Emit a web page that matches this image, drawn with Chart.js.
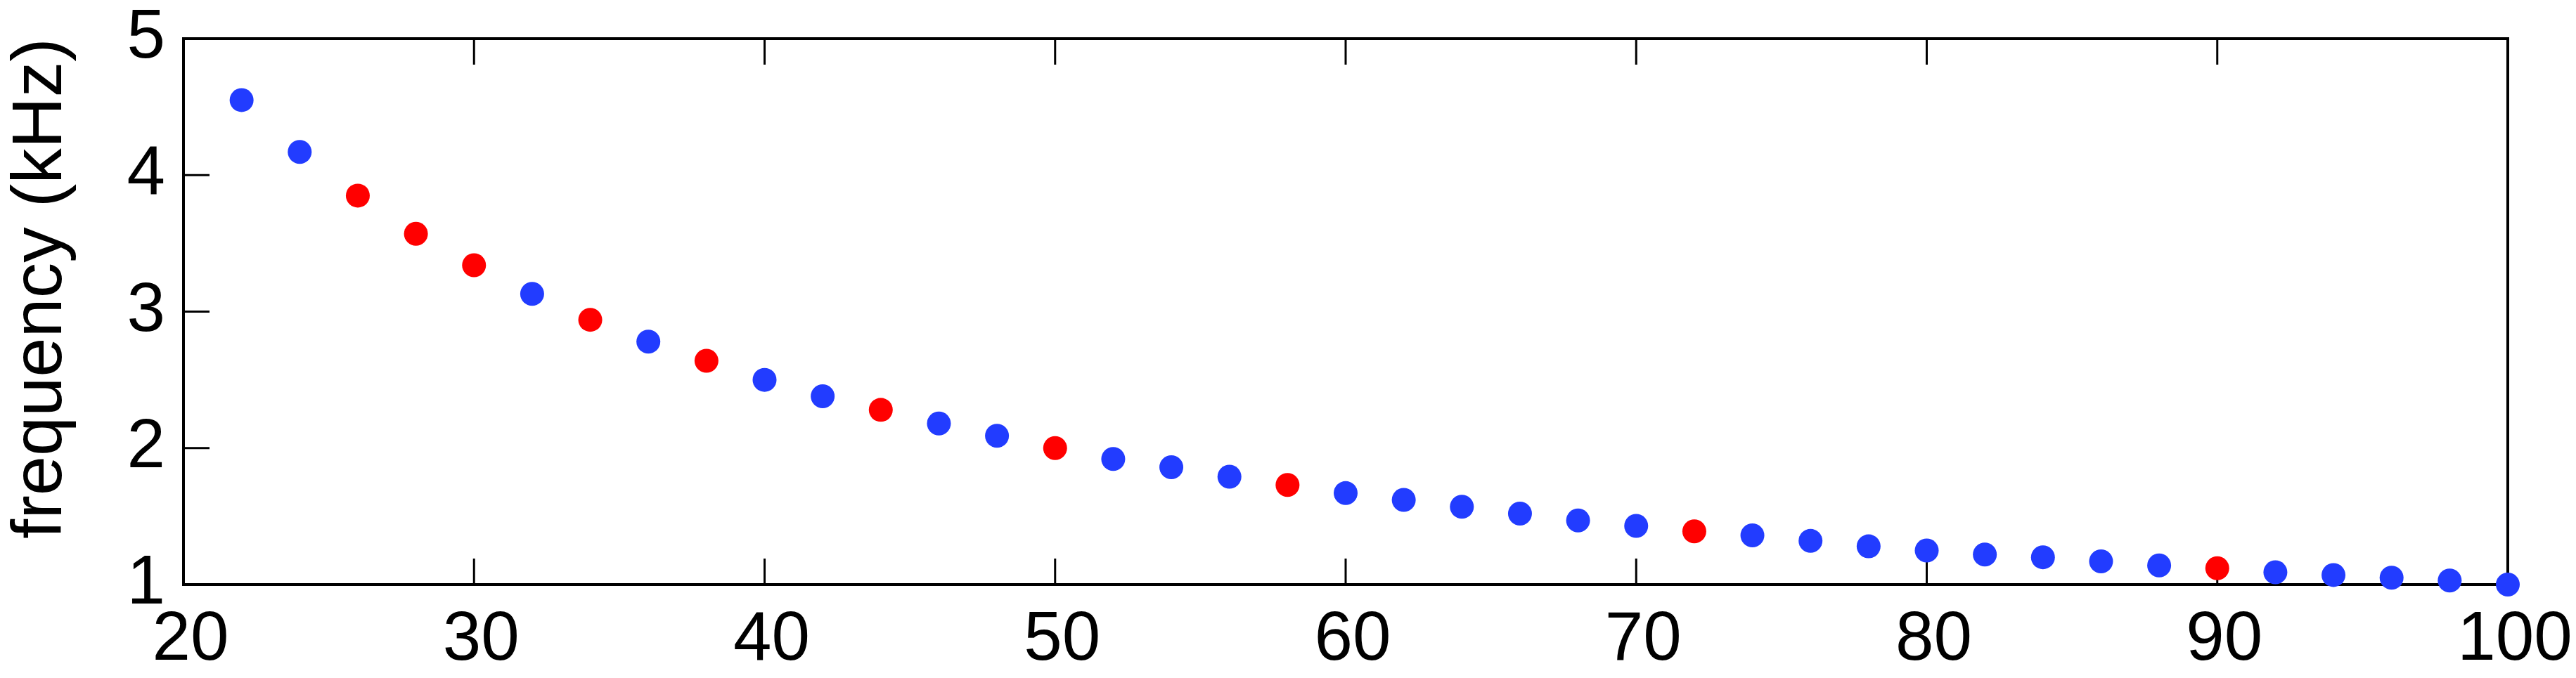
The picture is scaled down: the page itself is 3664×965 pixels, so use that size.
<!DOCTYPE html>
<html>
<head>
<meta charset="utf-8">
<script src="https://cdn.jsdelivr.net/npm/chart.js@4/dist/chart.umd.min.js"></script>
<style>
    html, body { margin: 0; padding: 0; background: #fff; }
    #chart { display: block; }
</style>
</head>
<body>
<canvas id="chart" width="3664" height="965"></canvas>
<script>
// --- DATA ---
const lengths = [22, 24, 26, 28, 30, 32, 34, 36, 38, 40, 42, 44, 46, 48, 50, 52, 54, 56, 58, 60,
    62, 64, 66, 68, 70, 72, 74, 76, 78, 80, 82, 84, 86, 88, 90, 92, 94, 96, 98, 100];
const frequencyKHz = [4.55, 4.17, 3.85, 3.57, 3.34, 3.13, 2.94, 2.78, 2.64, 2.50, 2.38, 2.28, 2.18, 2.09, 2.00, 1.92, 1.86, 1.79, 1.73, 1.67,
    1.62, 1.57, 1.52, 1.47, 1.43, 1.39, 1.36, 1.32, 1.28, 1.25, 1.22, 1.20, 1.17, 1.14, 1.12, 1.09, 1.07, 1.05, 1.03, 1.00];
// lengths whose dot is drawn red
const highlighted = [26, 28, 30, 34, 38, 44, 50, 58, 72, 90];
const xTicks = [20, 30, 40, 50, 60, 70, 80, 90, 100];
const yTicks = [1, 2, 3, 4, 5];

const BLUE = 'rgb(34, 60, 255)';
const RED = 'rgb(255, 0, 0)';
const FONT = "'Liberation Sans', Arial, sans-serif";

// where the plot box should sit on the canvas
const AREA = { left: 261, top: 55, right: 3567, bottom: 832 };
const TITLE_SHIFT = -33; // y label sits a little above the middle of the axis

const points = lengths.map((x, i) => ({ x: x, y: frequencyKHz[i] }));
const colors = lengths.map((x) => (highlighted.includes(x) ? RED : BLUE));

// pin the chart area so the label padding chart.js adds doesn't move it
const pinAreaPlugin = {
    id: 'pinArea',
    afterLayout(chart) {
        const a = chart.chartArea;
        a.left = AREA.left;
        a.top = AREA.top;
        a.right = AREA.right;
        a.bottom = AREA.bottom;
        a.width = AREA.right - AREA.left;
        a.height = AREA.bottom - AREA.top;
        const x = chart.scales.x;
        const y = chart.scales.y;
        x.left = AREA.left; x.right = AREA.right; x.width = a.width;
        x.top = AREA.bottom; x.bottom = chart.height; x.height = chart.height - AREA.bottom;
        y.top = AREA.top; y.bottom = AREA.bottom; y.height = a.height;
        y.left = 0; y.right = AREA.left; y.width = AREA.left;
        x.configure();
        y.configure();

        if (!y._titleShifted) {
            const drawTitle = y.drawTitle;
            y.drawTitle = function () {
                this.ctx.save();
                this.ctx.translate(0, TITLE_SHIFT);
                drawTitle.call(this);
                this.ctx.restore();
            };
            y._titleShifted = true;
        }
    },
};

// box around the plot with inward tick marks (x: top and bottom, y: left)
const boxPlugin = {
    id: 'box',
    beforeDatasetsDraw(chart) {
        const { ctx, chartArea: a, scales } = chart;
        const tickLen = 37;
        ctx.save();
        ctx.strokeStyle = '#000';
        ctx.lineWidth = 3;
        ctx.beginPath();
        xTicks.forEach((v) => {
            const px = scales.x.getPixelForValue(v);
            ctx.moveTo(px, a.bottom);
            ctx.lineTo(px, a.bottom - tickLen);
            ctx.moveTo(px, a.top);
            ctx.lineTo(px, a.top + tickLen);
        });
        yTicks.forEach((v) => {
            const py = scales.y.getPixelForValue(v);
            ctx.moveTo(a.left, py);
            ctx.lineTo(a.left + tickLen, py);
        });
        ctx.stroke();
        ctx.lineWidth = 4;
        ctx.strokeRect(a.left, a.top, a.right - a.left, a.bottom - a.top);
        ctx.restore();
    },
};

new Chart(document.getElementById('chart'), {
    type: 'scatter',
    data: {
        datasets: [
            {
                data: points,
                pointBackgroundColor: colors,
                pointBorderWidth: 0,
                pointRadius: 17,
                pointHoverRadius: 17,
                clip: false,
            },
        ],
    },
    options: {
        responsive: false,
        animation: false,
        devicePixelRatio: 1,
        plugins: {
            legend: { display: false },
            tooltip: { enabled: false },
        },
        scales: {
            x: {
                type: 'linear',
                min: 20,
                max: 100,
                afterBuildTicks: (scale) => { scale.ticks = xTicks.map((v) => ({ value: v })); },
                grid: { display: false, drawTicks: false },
                border: { display: false },
                ticks: {
                    color: '#000',
                    font: { family: FONT, size: 98 },
                    padding: 21,
                    labelOffset: 10,
                    maxRotation: 0,
                    autoSkip: false,
                },
            },
            y: {
                type: 'linear',
                min: 1,
                max: 5,
                afterBuildTicks: (scale) => { scale.ticks = yTicks.map((v) => ({ value: v })); },
                grid: { display: false, drawTicks: false },
                border: { display: false },
                ticks: {
                    color: '#000',
                    font: { family: FONT, size: 98 },
                    padding: 26,
                    autoSkip: false,
                },
                title: {
                    display: true,
                    text: 'frequency (kHz)',
                    color: '#000',
                    font: { family: FONT, size: 101, lineHeight: 1 },
                    padding: { top: 9, bottom: 0 },
                },
            },
        },
    },
    plugins: [pinAreaPlugin, boxPlugin],
});
</script>
</body>
</html>
